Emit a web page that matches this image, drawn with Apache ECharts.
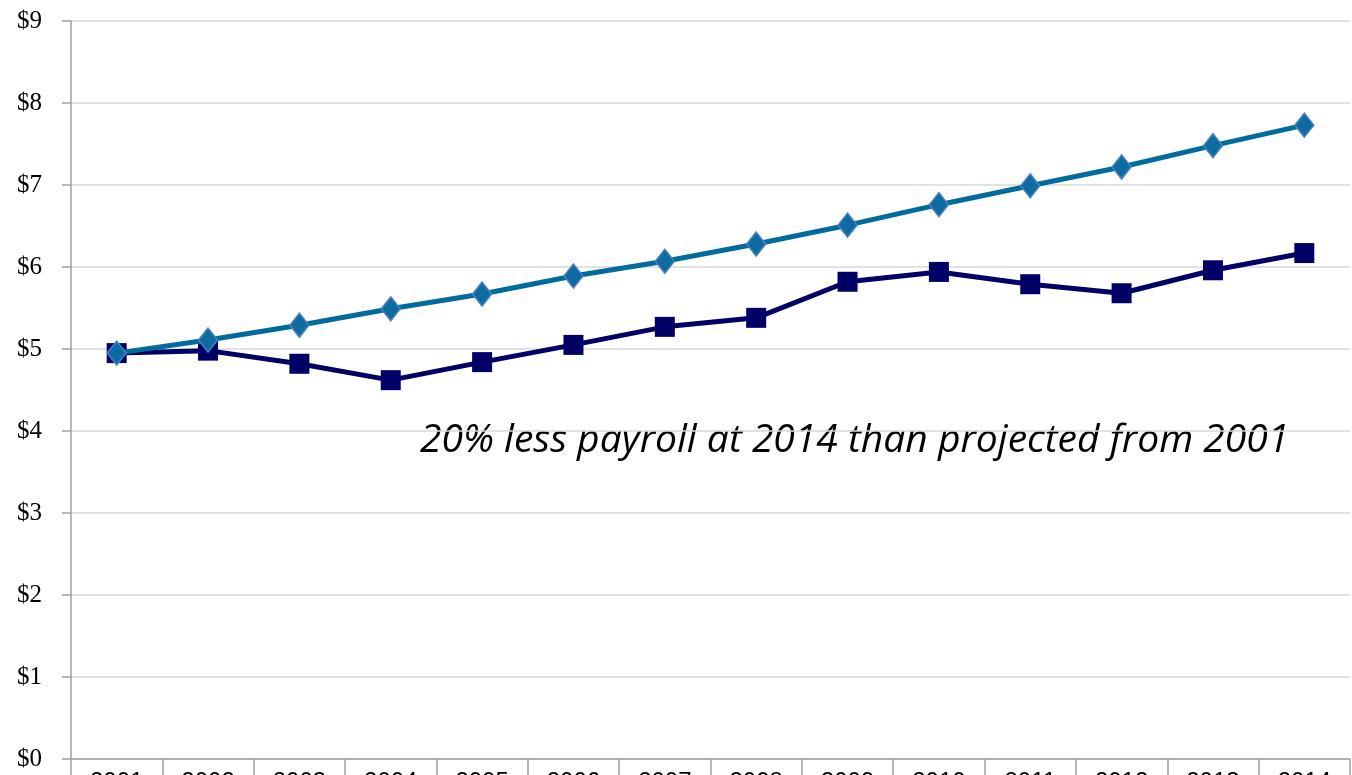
<!DOCTYPE html>
<html>
<head>
<meta charset="utf-8">
<script src="https://cdn.jsdelivr.net/npm/echarts@6/dist/echarts.min.js"></script>
<style>
  html, body { margin: 0; padding: 0; background: #fff; }
  #chart { width: 1352px; height: 775px; }
</style>
</head>
<body>
<div id="chart"></div>
<script>
// years on the x axis
const years = ["2001", "2002", "2003", "2004", "2005", "2006", "2007",
  "2008", "2009", "2010", "2011", "2012", "2013", "2014"];
// payroll projected from 2001 (diamonds)
const projected = [4.95, 5.11, 5.29, 5.49, 5.67, 5.89, 6.07,
  6.28, 6.51, 6.76, 6.99, 7.22, 7.48, 7.73];
// actual payroll (squares)
const actual = [4.95, 4.98, 4.82, 4.62, 4.84, 5.05, 5.27,
  5.38, 5.82, 5.94, 5.79, 5.68, 5.96, 6.17];
const note = "20% less payroll at 2014 than projected from 2001";

let chart = echarts.init(document.getElementById("chart"));
chart.setOption({
  animation: false,
  grid: {
    left: 71, right: 2, top: 21, bottom: 16,
    containLabel: false,
    outerBoundsMode: "none"
  },
  xAxis: {
    type: "category",
    data: years,
    boundaryGap: true,
    axisLine: { lineStyle: { color: "#a0a0a0", width: 1.5 } },
    axisTick: { show: true, length: 20, lineStyle: { color: "#a0a0a0", width: 1.5 } },
    axisLabel: {
      margin: 11,
      color: "#000",
      fontFamily: "Liberation Sans",
      fontSize: 24
    }
  },
  yAxis: {
    type: "value",
    min: 0,
    max: 9,
    interval: 1,
    axisLine: { show: true, lineStyle: { color: "#a0a0a0", width: 1.5 } },
    axisTick: { show: true, length: 9, lineStyle: { color: "#a0a0a0", width: 1.5 } },
    splitLine: { lineStyle: { color: "#d9d9d9", width: 1.5 } },
    axisLabel: {
      margin: 29,
      color: "#000",
      fontFamily: "Liberation Serif",
      fontSize: 25,
      formatter: "${value}"
    }
  },
  series: [
    {
      name: "Actual",
      type: "line",
      data: actual,
      symbol: "rect",
      symbolSize: 20,
      lineStyle: { color: "#000066", width: 5 },
      itemStyle: { color: "#000066" },
      z: 2
    },
    {
      name: "Projected",
      type: "line",
      data: projected,
      symbol: "diamond",
      symbolSize: [19, 24],
      lineStyle: { color: "#006c9e", width: 5 },
      itemStyle: { color: "#0e6ba0", borderColor: "#4a80c4", borderWidth: 1.5 },
      z: 3
    }
  ],
  graphic: [
    {
      type: "text",
      x: 420,
      y: 441,
      style: {
        text: note,
        fill: "#000",
        verticalAlign: "middle",
        font: "italic 39px 'Open Sans'"
      }
    }
  ]
});
</script>
</body>
</html>
